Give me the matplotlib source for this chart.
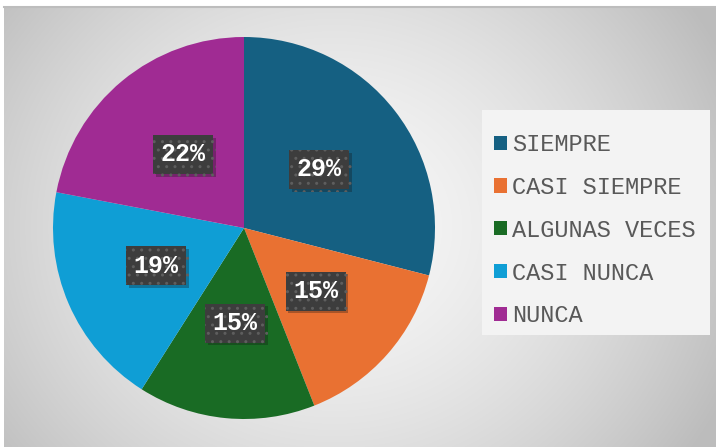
import numpy as np
import matplotlib.pyplot as plt
import matplotlib.patheffects as pe
from matplotlib.patches import Rectangle

# datos del grafico
categorias = ["SIEMPRE", "CASI SIEMPRE", "ALGUNAS VECES", "CASI NUNCA", "NUNCA"]
porcentajes = [29, 15, 15, 19, 22]
colores = ["#156082", "#E97132", "#196B24", "#0F9ED5", "#A02B93"]

W, H = 716, 447
fig = plt.figure(figsize=(W / 100, H / 100), dpi=100)
fig.patch.set_facecolor("white")
plt.rcParams["hatch.linewidth"] = 1.0

# fondo con degradado radial
ax_bg = fig.add_axes([4 / W, 0, (W - 4) / W, (H - 7) / H])
ax_bg.set_axis_off()
yy, xx = np.mgrid[0:440, 0:712]
d = np.hypot(xx - 330, (yy - 220) * 1.1) / 420
g = np.clip(0.97 - 0.22 * d ** 1.6, 0.74, 0.97)
ax_bg.imshow(np.dstack([g, g, g]), aspect="auto", extent=(0, 1, 0, 1))
ax_bg.set_xlim(0, 1)
ax_bg.set_ylim(0, 1)
ax_bg.plot([0, 1], [1, 1], color="#bdbdbd", lw=1.5, clip_on=False)

# pastel
cx, cy, r = 244, 228, 191
ax = fig.add_axes([(cx - r) / W, (H - cy - r) / H, 2 * r / W, 2 * r / H])
ax.set_axis_off()
wedges, _ = ax.pie(porcentajes, colors=colores, startangle=90, counterclock=False,
                   radius=1, wedgeprops=dict(linewidth=0))
ax.set_xlim(-1, 1)
ax.set_ylim(-1, 1)

total = sum(porcentajes)
ang = 90.0
for v in porcentajes:
    mid = np.deg2rad(ang - v / total * 360 / 2)
    ang -= v / total * 360
    x, y = 0.5 * np.cos(mid), 0.5 * np.sin(mid)
    t = ax.text(x, y, f"{v}%", ha="center", va="center", color="white",
                fontsize=18, fontweight="bold", family="Liberation Mono",
                bbox=dict(boxstyle="square,pad=0.3", fc="#3d3d3d", ec="#5e5e5e",
                          lw=0, hatch=".."))
    t.get_bbox_patch().set_path_effects(
        [pe.SimplePatchShadow(offset=(2, -2), alpha=0.3), pe.Normal()])

# caja de la leyenda
fig.patches.append(Rectangle((482 / W, 1 - 335 / H), (710 - 482) / W, (335 - 110) / H,
                             transform=fig.transFigure, fc="#f3f3f3", ec="none",
                             zorder=1))

leg = fig.legend(wedges, categorias, loc="upper left",
                 bbox_to_anchor=(494 / W, 1 - 133 / H), borderaxespad=0,
                 prop=dict(family="Liberation Mono", size=17),
                 handlelength=0.55, handleheight=0.55, handletextpad=0.2,
                 labelspacing=0.84, borderpad=0, frameon=False)
leg.set_zorder(2)
for t in leg.get_texts():
    t.set_color("#595959")

fig.savefig("out.png", dpi=100)
